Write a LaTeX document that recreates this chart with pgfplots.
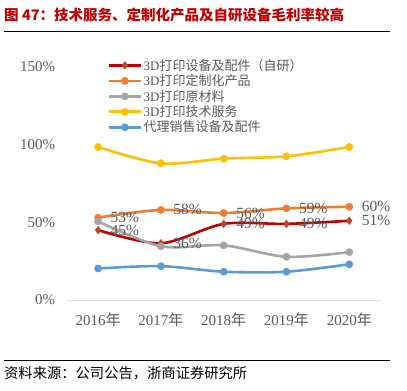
\documentclass[border=0pt]{standalone}
\usepackage{fontspec}
\setmainfont{Liberation Serif}
\newfontfamily\cjk{Noto Sans CJK SC}
\usepackage{pgfplots}
\pgfplotsset{compat=1.18}
\usepackage{pgfplotstable}
\definecolor{cred}{HTML}{C00000}
\definecolor{cdia}{HTML}{B5472D}
\definecolor{corange}{HTML}{ED7D31}
\definecolor{cgray}{HTML}{A5A5A5}
\definecolor{cyellow}{HTML}{FFC000}
\definecolor{cblue}{HTML}{5B9BD5}
\definecolor{ctext}{HTML}{595959}
\definecolor{ctitle}{HTML}{C00000}
\pgfplotstableread{
x y lab
0 45 45\%
1 36.5 36\%
2 49 49\%
3 49 49\%
4 51 51\%
}\tred
\pgfplotstableread{
x y lab
0 53 53\%
1 58 58\%
2 56 56\%
3 59 59\%
4 60 60\%
}\torange
\pgfplotstableread{
x y
0 50.6
1 34.6
2 35.2
3 27.8
4 30.8
}\tgray
\pgfplotstableread{
x y
0 98.5
1 88
2 91
3 92.5
4 98.5
}\tyellow
\pgfplotstableread{
x y
0 20.3
1 21.8
2 18.2
3 18.2
4 23
}\tblue
\begin{document}
\begin{tikzpicture}
\useasboundingbox (0,0) rectangle (407bp,391bp);
\node[anchor=west, text=ctitle, font=\cjk\bfseries\fontsize{14.5bp}{16bp}\selectfont, inner sep=0pt] at (4bp,376bp) {图\ 47：技术服务、定制化产品及自研设备毛利率较高};
\draw[black, line width=0.8bp] (4bp,360bp) -- (390bp,360bp);
\draw[black, line width=0.8bp] (4bp,31bp) -- (390bp,31bp);
\node[anchor=west, text=black, font=\cjk\fontsize{14.3bp}{16bp}\selectfont, inner sep=0pt] at (4bp,18bp) {资料来源：公司公告，浙商证券研究所};
\begin{axis}[
  at={(66.7bp,91bp)}, anchor=south west,
  scale only axis, width=314bp, height=233bp,
  xmin=-0.5, xmax=4.5, ymin=0, ymax=150,
  clip=false,
  axis lines=left,
  axis line style={-},
  x axis line style={draw=black!15, line width=0.8bp},
  y axis line style={draw=none},
  major tick length=0pt,
  xtick={0,1,2,3,4},
  xticklabels={2016{\cjk 年},2017{\cjk 年},2018{\cjk 年},2019{\cjk 年},2020{\cjk 年}},
  ytick={0,50,100,150},
  yticklabel={\pgfmathprintnumber{\tick}\%},
  /pgf/number format/assume math mode=true,
  tick label style={text=ctext, font=\fontsize{15bp}{17bp}\selectfont},
  yticklabel style={xshift=-8bp},
  xticklabel style={yshift=-9bp},
  every axis plot/.append style={line width=2.6bp, smooth},
  legend cell align=left,
  legend style={at={(rel axis cs:0.12,1.05)}, anchor=north west, draw=none, fill=none,
    font=\fontsize{13bp}{14bp}\selectfont, text=ctext, row sep=0bp,
    nodes={inner sep=1.5bp}},
  legend image code/.code={\draw[mark repeat=2,mark phase=2,#1] plot coordinates {(0bp,0bp) (16bp,0bp) (32bp,0bp)};},
  nodes near coords style={anchor=west, xshift=9bp, text=ctext, font=\fontsize{15.5bp}{17bp}\selectfont},
]
\addplot[cred, mark=diamond*, mark size=3.8bp, mark options={fill=cdia, draw=cdia, line width=0.5bp},
  nodes near coords, point meta=explicit symbolic] table[x=x,y=y,meta=lab] {\tred};
\addlegendentry{3D{\cjk 打印设备及配件（自研）}}
\addplot[corange, mark=*, mark size=3.6bp, mark options={fill=corange, draw=corange, line width=0.5bp},
  nodes near coords, point meta=explicit symbolic] table[x=x,y=y,meta=lab] {\torange};
\addlegendentry{3D{\cjk 打印定制化产品}}
\addplot[cgray, mark=*, mark size=3.6bp, mark options={fill=cgray, draw=cgray, line width=0.5bp}] table[x=x,y=y] {\tgray};
\addlegendentry{3D{\cjk 打印原材料}}
\addplot[cyellow, mark=*, mark size=3.6bp, mark options={fill=cyellow, draw=cyellow, line width=0.5bp}] table[x=x,y=y] {\tyellow};
\addlegendentry{3D{\cjk 打印技术服务}}
\addplot[cblue, mark=*, mark size=3.6bp, mark options={fill=cblue, draw=cblue, line width=0.5bp}] table[x=x,y=y] {\tblue};
\addlegendentry{{\cjk 代理销售设备及配件}}
\end{axis}
\end{tikzpicture}
\end{document}
